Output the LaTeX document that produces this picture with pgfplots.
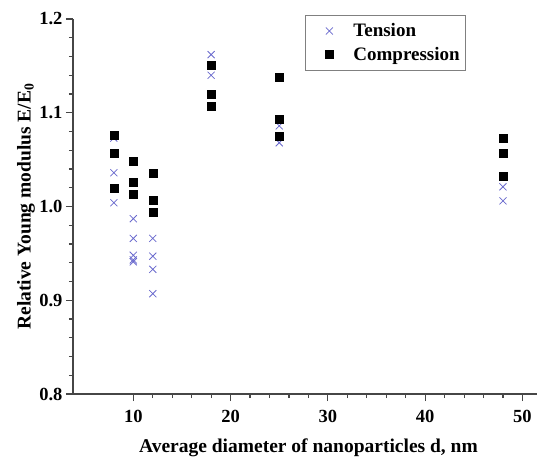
\documentclass[border=0pt]{standalone}
\usepackage{pgfplots}
\pgfplotsset{compat=1.18}
\usepackage{fontspec}
\setmainfont{Liberation Serif}
\definecolor{tensioncol}{RGB}{105,105,205}
\definecolor{axcol}{RGB}{70,70,70}
\begin{document}
\begin{tikzpicture}
\begin{axis}[
  at={(0,0)}, anchor=south west,
  scale only axis,
  width=464pt, height=375pt,
  xmin=3.8, xmax=51.5,
  ymin=0.8, ymax=1.2,
  axis x line*=bottom, axis y line*=left,
  axis line style={axcol, line width=1.1pt},
  every tick/.style={axcol, line width=1.1pt},
  tick align=outside,
  major tick length=7pt, minor tick length=4pt,
  xtick={10,20,30,40,50},
  ytick={0.8,0.9,1.0,1.1,1.2},
  minor x tick num=4, minor y tick num=4,
  /pgf/number format/assume math mode=true,
  yticklabel style={/pgf/number format/fixed, /pgf/number format/fixed zerofill, /pgf/number format/precision=1},
  xticklabel style={yshift=-6pt},
  tick label style={font=\fontsize{18.5}{20}\selectfont\bfseries},
  xlabel={Average diameter of nanoparticles d, nm},
  ylabel={Relative Young modulus E/E\textsubscript{0}},
  xlabel style={at={(axis description cs:0.5075,-0.157)}, anchor=base},
  ylabel style={at={(axis description cs:-0.1013,0.5)}, anchor=center},
  label style={font=\fontsize{19.5}{21}\selectfont\bfseries},
  legend style={at={(0.5,1.01)}, anchor=north west, draw=gray, line width=0.8pt,
    font=\fontsize{19}{21}\selectfont\bfseries, inner xsep=4pt, inner ysep=6pt,
    row sep=5pt},
  legend image code/.code={\path[draw=none] (0pt,0pt) -- (42pt,0pt);
    \draw[#1] plot[only marks] coordinates {(20pt,0pt)};},
  legend cell align=left,
  clip=false,
]
\addplot[only marks, mark=x, mark size=5pt, color=tensioncol, line width=0.8pt]
 coordinates {
 (8,1.073) (8,1.036) (8,1.004)
 (10,0.987) (10,0.966) (10,0.948) (10,0.943) (10,0.941)
 (12,0.966) (12,0.947) (12,0.933) (12,0.907)
 (18,1.162) (18,1.140)
 (25,1.086) (25,1.068)
 (48,1.021) (48,1.006)
 };
\addlegendentry{Tension}
\addplot[only marks, mark=square*, mark size=4pt, color=black]
 coordinates {
 (8,1.076) (8,1.057) (8,1.020)
 (10,1.048) (10,1.026) (10,1.013)
 (12,1.035) (12,1.007) (12,0.994)
 (18,1.151) (18,1.120) (18,1.107)
 (25,1.138) (25,1.093) (25,1.075)
 (48,1.073) (48,1.057) (48,1.032)
 };
\addlegendentry{Compression}
\end{axis}
\pgfresetboundingbox
\path[use as bounding box] (-73pt,-65pt) rectangle (464pt,394pt);
\end{tikzpicture}
\end{document}
